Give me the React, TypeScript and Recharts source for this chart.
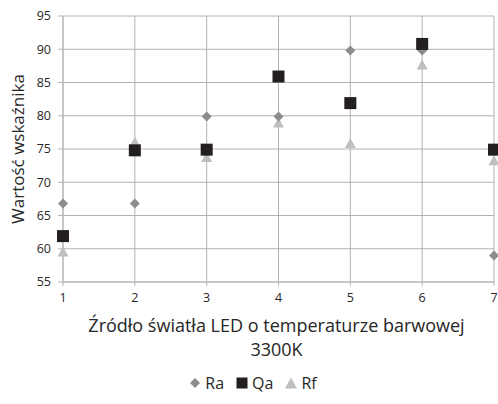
import React from "react";
import { ScatterChart, Scatter, XAxis, YAxis, CartesianGrid, Legend } from "recharts";

const sources = [1, 2, 3, 4, 5, 6, 7];
const raValues = [66.8, 66.8, 79.9, 79.9, 89.8, 89.8, 59.0];
const qaValues = [61.9, 74.8, 74.9, 85.9, 81.9, 90.8, 74.9];
const rfValues = [59.6, 76.1, 73.8, 79.0, 75.9, 87.7, 73.3];
const yTicks = [55, 60, 65, 70, 75, 80, 85, 90, 95];
const xLabelLines = ["Źródło światła LED o temperaturze barwowej", "3300K"];
const yLabel = "Wartość wskaźnika";
const legendItems = ["Ra", "Qa", "Rf"];

const COLORS = { Ra: "#8c8c8c", Qa: "#231f20", Rf: "#bfbfbf" };
const GRID = "#b3b3b3";
const TEXT = "#262626";
const FONT = "'Open Sans', sans-serif";

const toPoints = (vals: number[]) => sources.map((x, i) => ({ x, y: vals[i] }));

const Diamond = (p: any) => {
  const { cx, cy, fill } = p;
  const r = 5;
  return <path d={`M${cx},${cy - r}L${cx + r},${cy}L${cx},${cy + r}L${cx - r},${cy}Z`} fill={fill} />;
};
const Square = (p: any) => {
  const { cx, cy, fill } = p;
  const s = 12;
  return <rect x={cx - s / 2} y={cy - s / 2} width={s} height={s} fill={fill} />;
};
const Triangle = (p: any) => {
  const { cx, cy, fill } = p;
  const w = 11;
  const h = 10;
  return <path d={`M${cx},${cy - h / 2}L${cx + w / 2},${cy + h / 2}L${cx - w / 2},${cy + h / 2}Z`} fill={fill} />;
};

const legendIcon = (name: string) => {
  const c = (COLORS as any)[name];
  if (name === "Ra") return <path d="M6,1L11,6L6,11L1,6Z" fill={c} />;
  if (name === "Qa") return <rect x={0.5} y={0.5} width={11} height={11} fill={c} />;
  return <path d="M6,0.5L12,11.5L0,11.5Z" fill={c} />;
};

const LegendContent = () => (
  <div style={{ display: "flex", justifyContent: "center", alignItems: "center", fontFamily: FONT, fontSize: 16, color: TEXT, height: 22, paddingLeft: 24 }}>
    {legendItems.map((n) => (
      <span key={n} style={{ display: "inline-flex", alignItems: "center", marginRight: 12 }}>
        <svg width={12} height={12} style={{ marginRight: 4 }}>{legendIcon(n)}</svg>
        <span>{n}</span>
      </span>
    ))}
  </div>
);

const XLabel = (props: any) => {
  const vb = props.viewBox || {};
  const cx = (vb.x || 0) + (vb.width || 0) / 2;
  const top = vb.y || 0;
  return (
    <text textAnchor="middle" fontFamily={FONT} fontSize={18} fill={TEXT}>
      <tspan x={cx - 2} y={top + 50}>{xLabelLines[0]}</tspan>
      <tspan x={cx - 2} y={top + 74}>{xLabelLines[1]}</tspan>
    </text>
  );
};

const YLabel = (props: any) => {
  const vb = props.viewBox || {};
  const cy = (vb.y || 0) + (vb.height || 0) / 2;
  return (
    <text x={17} y={cy} transform={`rotate(-90, 17, ${cy})`} textAnchor="middle" dominantBaseline="central" fontFamily={FONT} fontSize={17} fill={TEXT}>
      {yLabel}
    </text>
  );
};

export default function App() {
  return (
    <div style={{ position: "absolute", left: 0, top: 0, width: 498, height: 404, background: "#fff" }}>
      <ScatterChart width={498} height={404} margin={{ top: 16, right: 4, bottom: 10, left: 0 }}>
        <CartesianGrid stroke={GRID} strokeWidth={1} />
        <XAxis
          type="number"
          dataKey="x"
          domain={[1, 7]}
          ticks={sources}
          height={90}
          stroke={GRID}
          tickSize={4}
          tickMargin={7}
          tick={{ fill: TEXT, fontSize: 12.5, fontFamily: FONT }}
          label={<XLabel />}
        />
        <YAxis
          type="number"
          dataKey="y"
          domain={[55, 95]}
          ticks={yTicks}
          width={63}
          stroke={GRID}
          tickSize={5}
          tickMargin={7}
          tick={{ fill: TEXT, fontSize: 12.5, fontFamily: FONT }}
          label={<YLabel />}
        />
        <Legend verticalAlign="bottom" content={<LegendContent />} />
        <Scatter name="Rf" data={toPoints(rfValues)} fill={COLORS.Rf} shape={<Triangle />} isAnimationActive={false} />
        <Scatter name="Ra" data={toPoints(raValues)} fill={COLORS.Ra} shape={<Diamond />} isAnimationActive={false} />
        <Scatter name="Qa" data={toPoints(qaValues)} fill={COLORS.Qa} shape={<Square />} isAnimationActive={false} />
      </ScatterChart>
    </div>
  );
}
